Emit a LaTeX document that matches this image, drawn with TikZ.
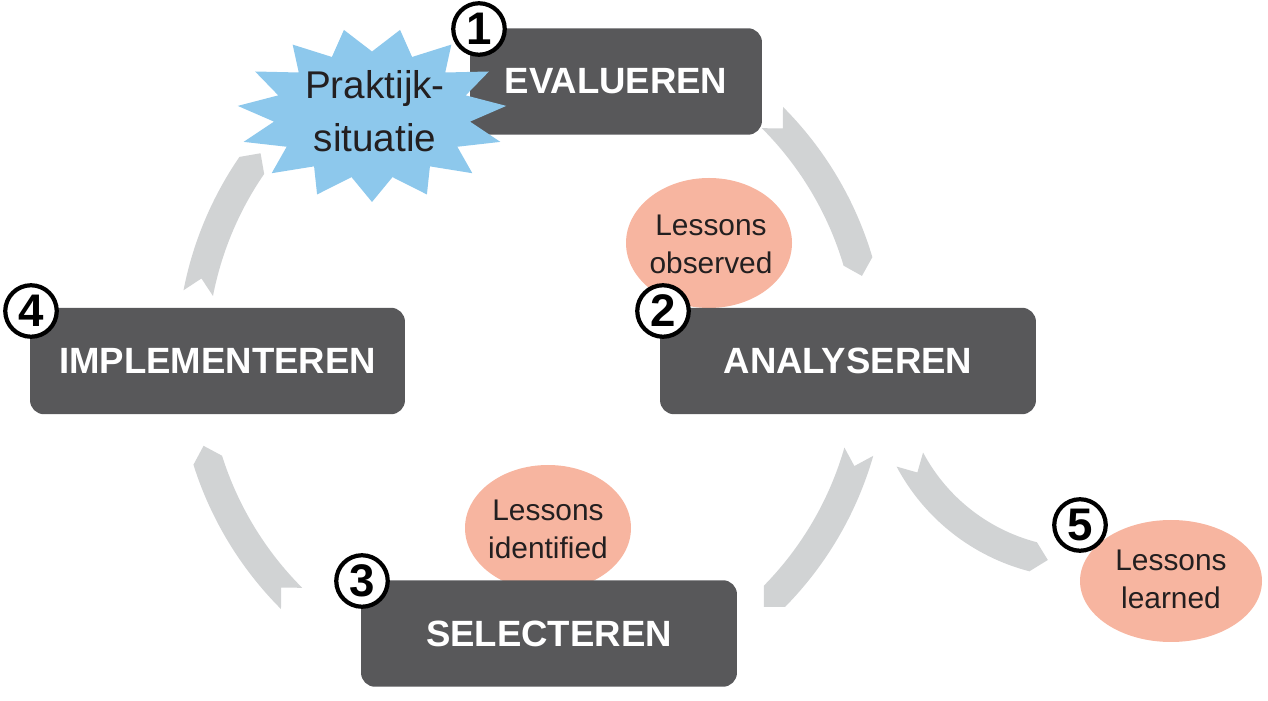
\documentclass[tikz,border=0pt]{standalone}
\usepackage{fontspec}
\setmainfont{Liberation Sans}
\usetikzlibrary{positioning}
\definecolor{boxgray}{HTML}{58585A}
\definecolor{ringgray}{HTML}{D1D3D4}
\definecolor{starblue}{HTML}{8DC8EC}
\definecolor{salmon}{HTML}{F7B5A0}
\definecolor{inkdark}{HTML}{231F20}
\tikzset{
    stage/.style={fill=boxgray, rounded corners=8pt, text=white,
                  font=\fontsize{20.8}{24}\selectfont\bfseries, minimum height=2.13cm},
    lesson/.style={fill=salmon},
    lessontext/.style={text=inkdark, align=center, font=\fontsize{17}{21.6}\selectfont},
    num/.style={circle, draw=black, line width=2.4pt, fill=white, inner sep=0pt,
                minimum size=1.03cm, font=\fontsize{26}{26}\selectfont\bfseries},
    ring/.style={fill=ringgray},
}
% curved band: centre x, centre y, radius, tail angle, head angle, width
\newcommand{\cyclearrow}[6]{%
    \pgfmathsetmacro{\arrRo}{#3+#6/2}
    \pgfmathsetmacro{\arrRi}{#3-#6/2}
    \pgfmathsetmacro{\arrHead}{#5+sign(#5-#4)*15/#3*57.3}
    \pgfmathsetmacro{\arrNotch}{#4+sign(#5-#4)*15/#3*57.3}
    \fill[ring, shift={(#1,#2)}] (#4:\arrRo) arc[start angle=#4, end angle=#5, radius=\arrRo]
        -- (\arrHead:#3) -- (#5:\arrRi) arc[start angle=#5, end angle=#4, radius=\arrRi]
        -- (\arrNotch:#3) -- cycle;
}

\begin{document}
\begin{tikzpicture}[x=0.02cm, y=0.02cm]
    \useasboundingbox (0,0) rectangle (1268,700);

    % cycle arrows
    \foreach \a/\b in {45/16.5, -16/-44.5, -135/-162.5, 169/145.5} {
        \cyclearrow{532}{342}{340}{\a}{\b}{30}
    }
    \cyclearrow{1082}{332}{195}{208}{255.5}{30}

    % lessons
    \fill[lesson] (709,457) ellipse[x radius=83, y radius=65];
    \fill[lesson] (548,172) ellipse[x radius=83, y radius=63];
    \fill[lesson] (1171,119) ellipse[x radius=91, y radius=61];
    \node[lessontext] (observed) at (711,456) {Lessons\\observed};
    \node[lessontext] (identified) at (548,171) {Lessons\\identified};
    \node[lessontext] (learned) at (1171,121) {Lessons\\learned};

    % stages
    \node[stage, minimum width=5.84cm] (evalueren) at (616,618.5) {EVALUEREN};
    \node[stage, minimum width=7.52cm] (analyseren) at (848,339) {ANALYSEREN};
    \node[stage, minimum width=7.5cm] (implementeren) at (217.5,339) {IMPLEMENTEREN};
    \node[stage, minimum width=7.52cm] (selecteren) at (549,66.5) {SELECTEREN};

    % star
    \fill[starblue] plot[samples=30, domain=0:29, variable=\k]
        ({372+135*(1-0.27*mod(\k,2))*cos(270+12*\k)}, {585+87*(1-0.27*mod(\k,2))*sin(270+12*\k)}) -- cycle;
    \node[text=inkdark, align=center, font=\fontsize{22}{30}\selectfont] (praktijk) at (375,589)
        {Praktijk-\\situatie};

    % numbers
    \node[num] (n1) at (479,671) {1};
    \node[num] (n2) at (663,389) {2};
    \node[num] (n3) at (362,119) {3};
    \node[num] (n4) at (31,389) {4};
    \node[num] (n5) at (1080,175) {5};
\end{tikzpicture}
\end{document}
